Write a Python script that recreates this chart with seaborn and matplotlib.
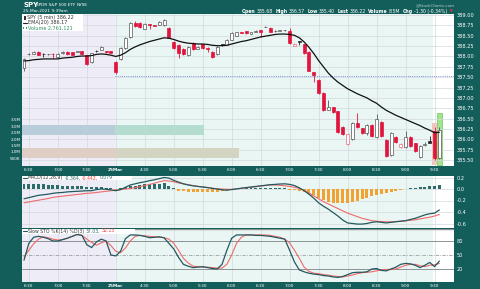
import matplotlib
matplotlib.use("Agg")
import matplotlib.pyplot as plt
from matplotlib.patches import Rectangle
import numpy as np
import pandas as pd
import seaborn as sns

sns.set_theme(style="white")
plt.rcParams["font.family"] = ["DejaVu Sans"]
plt.rcParams["axes.unicode_minus"] = False

# ------------------------------------------------------------------ data
after_hours = pd.date_range("2021-03-24 18:25", "2021-03-24 19:55", freq="5min")
premarket = pd.date_range("2021-03-25 04:00", "2021-03-25 09:35", freq="5min")
bar_times = list(after_hours) + list(premarket)

tick_stamps = ["2021-03-24 18:30", "2021-03-24 19:00", "2021-03-24 19:30",
               "2021-03-25 04:00", "2021-03-25 04:30", "2021-03-25 05:00",
               "2021-03-25 05:30", "2021-03-25 06:00", "2021-03-25 06:30",
               "2021-03-25 07:00", "2021-03-25 07:30", "2021-03-25 08:00",
               "2021-03-25 08:30", "2021-03-25 09:00", "2021-03-25 09:30"]
tick_labels = ["6:30", "7:00", "7:30", "25Mar", "4:30", "5:00", "5:30", "6:00",
               "6:30", "7:00", "7:30", "8:00", "8:30", "9:00", "9:30"]

opens = [387.72, 388.05, 388.06, 388.11, 388.07, 388.05, 388.07, 387.98, 388.08, 388.11,
         388.10, 388.11, 388.12, 388.03, 387.87, 388.14, 388.16, 388.13, 388.12, 387.87,
         387.94, 388.20, 388.47, 388.81, 388.80, 388.67, 388.78, 388.75, 388.76, 388.76,
         388.69, 388.35, 388.28, 388.18, 388.03, 388.33, 388.18, 388.30, 388.20, 388.11,
         388.06, 388.29, 388.28, 388.40, 388.50, 388.59, 388.61, 388.55, 388.60, 388.63,
         388.71, 388.69, 388.61, 388.62, 388.63, 388.61, 388.26, 388.36, 388.30, 388.11,
         387.62, 387.43, 387.12, 386.71, 386.78, 386.68, 386.30, 385.89, 386.01, 386.39,
         386.27, 386.15, 386.35, 386.06, 386.42, 385.98, 385.62, 386.06, 385.82, 385.81,
         386.06, 385.91, 385.58, 385.87, 385.96, 386.20, 385.55]
highs = [387.96, 388.09, 388.12, 388.12, 388.08, 388.07, 388.08, 388.08, 388.12, 388.12,
         388.11, 388.12, 388.13, 388.04, 388.09, 388.15, 388.25, 388.14, 388.13, 387.88,
         388.22, 388.47, 388.84, 388.86, 388.82, 388.80, 388.79, 388.76, 388.86, 388.90,
         388.71, 388.37, 388.30, 388.20, 388.25, 388.35, 388.24, 388.31, 388.22, 388.13,
         388.25, 388.30, 388.42, 388.59, 388.60, 388.60, 388.62, 388.59, 388.63, 388.64,
         388.74, 388.70, 388.63, 388.63, 388.65, 388.68, 388.32, 388.37, 388.31, 388.12,
         387.63, 387.45, 387.13, 386.95, 386.79, 386.69, 386.31, 386.14, 386.41, 386.64,
         386.28, 386.37, 386.37, 386.62, 386.44, 386.00, 386.17, 386.08, 385.90, 386.20,
         386.08, 385.92, 385.86, 385.93, 386.08, 386.30, 386.30]
lows = [387.66, 388.03, 388.05, 388.03, 387.99, 388.04, 387.96, 387.96, 388.07, 388.04,
        388.03, 388.10, 388.05, 387.80, 387.85, 388.11, 388.15, 388.09, 388.08, 387.58,
        387.92, 388.18, 388.45, 388.72, 388.68, 388.66, 388.66, 388.73, 388.75, 388.74,
        388.44, 388.18, 387.97, 388.04, 388.01, 388.16, 388.17, 388.19, 388.10, 387.97,
        388.04, 388.26, 388.27, 388.39, 388.49, 388.56, 388.55, 388.54, 388.58, 388.47,
        388.70, 388.59, 388.60, 388.61, 388.62, 388.30, 388.25, 388.28, 388.07, 387.64,
        387.38, 387.10, 386.69, 386.70, 386.64, 386.16, 386.11, 385.87, 385.99, 386.28,
        386.13, 386.10, 386.05, 386.04, 386.06, 385.58, 385.60, 385.92, 385.80, 385.79,
        385.82, 385.70, 385.54, 385.84, 385.90, 385.50, 385.52]
closes = [387.94, 388.07, 388.11, 388.04, 388.05, 388.06, 388.05, 388.06, 388.11, 388.05,
          388.04, 388.11, 388.06, 387.82, 388.08, 388.12, 388.22, 388.10, 388.09, 387.62,
          388.20, 388.45, 388.81, 388.74, 388.70, 388.78, 388.76, 388.74, 388.84, 388.88,
          388.45, 388.20, 388.08, 388.06, 388.23, 388.18, 388.22, 388.20, 388.18, 387.99,
          388.23, 388.27, 388.40, 388.57, 388.58, 388.57, 388.56, 388.58, 388.61, 388.60,
          388.72, 388.60, 388.62, 388.62, 388.64, 388.32, 388.31, 388.35, 388.08, 387.65,
          387.55, 387.12, 386.71, 386.78, 386.66, 386.18, 386.13, 386.12, 386.39, 386.30,
          386.15, 386.35, 386.08, 386.49, 386.08, 385.60, 386.15, 385.94, 385.89, 386.06,
          385.84, 385.72, 385.84, 385.89, 385.92, 385.55, 386.22]
ema20 = [387.89, 387.90, 387.92, 387.93, 387.94, 387.94, 387.94, 387.94, 387.96, 387.97,
         387.98, 388.00, 388.01, 388.01, 388.02, 388.05, 388.06, 388.05, 388.03, 388.00,
         388.03, 388.09, 388.17, 388.23, 388.28, 388.32, 388.36, 388.39, 388.42, 388.45,
         388.44, 388.41, 388.37, 388.34, 388.32, 388.31, 388.30, 388.30, 388.29, 388.27,
         388.26, 388.26, 388.27, 388.30, 388.33, 388.36, 388.38, 388.41, 388.44, 388.47,
         388.49, 388.51, 388.53, 388.54, 388.54, 388.53, 388.51, 388.45, 388.35, 388.22,
         388.07, 387.90, 387.75, 387.60, 387.48, 387.38, 387.30, 387.22, 387.16, 387.10,
         387.05, 387.00, 386.93, 386.87, 386.78, 386.70, 386.64, 386.58, 386.53, 386.48,
         386.43, 386.38, 386.33, 386.27, 386.22, 386.16, 386.17]
macd = [-0.17, -0.15, -0.13, -0.11, -0.10, -0.09, -0.075, -0.065, -0.06, -0.05,
        -0.045, -0.04, -0.035, -0.03, -0.03, -0.01, 0.0, -0.005, -0.015, -0.03,
        -0.01, 0.03, 0.07, 0.09, 0.11, 0.125, 0.145, 0.16, 0.18, 0.20,
        0.19, 0.15, 0.12, 0.09, 0.07, 0.055, 0.045, 0.035, 0.025, 0.01,
        0.0, -0.015, -0.02, -0.01, 0.0, 0.015, 0.025, 0.035, 0.045, 0.055,
        0.065, 0.075, 0.08, 0.087, 0.09, 0.08, 0.06, 0.02, -0.03, -0.09,
        -0.16, -0.24, -0.30, -0.35, -0.41, -0.47, -0.54, -0.59, -0.60, -0.61,
        -0.61, -0.60, -0.58, -0.57, -0.58, -0.59, -0.58, -0.57, -0.56, -0.55,
        -0.53, -0.51, -0.48, -0.45, -0.43, -0.42, -0.364]
signal = [-0.24, -0.225, -0.21, -0.195, -0.18, -0.165, -0.145, -0.135, -0.125, -0.115,
          -0.105, -0.095, -0.085, -0.075, -0.07, -0.06, -0.05, -0.04, -0.03, -0.02,
          -0.01, 0.0, 0.01, 0.025, 0.04, 0.06, 0.08, 0.10, 0.125, 0.145,
          0.14, 0.125, 0.105, 0.09, 0.075, 0.06, 0.045, 0.035, 0.025, 0.015,
          0.005, 0.0, -0.005, -0.005, 0.005, 0.01, 0.02, 0.03, 0.04, 0.05,
          0.06, 0.07, 0.07, 0.065, 0.055, 0.045, 0.03, 0.01, -0.02, -0.07,
          -0.12, -0.17, -0.22, -0.26, -0.30, -0.34, -0.38, -0.42, -0.45, -0.48,
          -0.51, -0.53, -0.55, -0.56, -0.565, -0.57, -0.57, -0.565, -0.56, -0.555,
          -0.545, -0.535, -0.52, -0.505, -0.49, -0.47, -0.442]
hist = [0.08, 0.08, 0.08, 0.08, 0.08, 0.075, 0.07, 0.065, 0.06, 0.06,
        0.055, 0.05, 0.045, 0.035, 0.03, 0.03, 0.03, 0.025, 0.015, -0.01,
        0.01, 0.04, 0.05, 0.06, 0.07, 0.08, 0.085, 0.09, 0.095, 0.10,
        0.05, 0.02, -0.035, -0.04, -0.05, -0.05, -0.05, -0.05, -0.05, -0.05,
        -0.045, -0.04, -0.03, -0.02, 0.0, 0.01, 0.015, 0.015, 0.015, 0.015,
        0.015, 0.015, 0.015, 0.015, 0.01, -0.01, -0.02, -0.04, -0.06, -0.08,
        -0.11, -0.15, -0.19, -0.22, -0.24, -0.245, -0.25, -0.24, -0.22, -0.20,
        -0.18, -0.16, -0.13, -0.11, -0.09, -0.07, -0.05, -0.03, -0.02, 0.005,
        0.01, 0.015, 0.03, 0.04, 0.05, 0.06, 0.078]
sto_k = [39, 75, 88, 90, 88, 85, 80, 80, 83, 86,
         90, 94, 92, 72, 66, 78, 84, 80, 50, 48,
         58, 85, 93, 93, 92, 90, 87, 88, 89, 87,
         75, 63, 45, 30, 26, 23, 24, 25, 23, 21,
         20, 30, 60, 86, 93, 93, 93, 93, 92, 92,
         91, 90, 88, 86, 84, 60, 35, 18, 14, 11,
         9, 8, 6, 5, 3, 2, 4, 8, 12, 13,
         13, 14, 20, 21, 17, 16, 20, 24, 30, 32,
         31, 28, 23, 28, 34, 25, 37]
sto_d = [46, 60, 74, 84, 89, 87, 84, 82, 83, 86,
         90, 94, 92, 84, 77, 71, 76, 80, 70, 58,
         55, 65, 80, 90, 92, 91, 90, 89, 88, 87,
         84, 75, 60, 43, 33, 26, 25, 24, 24, 23,
         22, 22, 30, 50, 75, 88, 93, 93, 93, 93,
         93, 92, 90, 88, 84, 76, 60, 43, 24, 15,
         11, 10, 8, 7, 5, 4, 3, 5, 7, 10,
         12, 13, 14, 16, 18, 19, 19, 20, 24, 28,
         30, 30, 27, 25, 28, 29, 32]
# regular-session volume bars (9:30, 9:35)
vol_times = ["2021-03-25 09:30", "2021-03-25 09:35"]
vol_values = [3.27e6, 4.04e6]
# volume-by-price zones: price centre, zone height, bar extent (bars)
vbp_price = [386.23, 385.67]
vbp_height = [0.24, 0.24]
vbp_extent = [37.3, 44.5]
prev_close = 387.52

# ------------------------------------------------------------------ frame
df = pd.DataFrame({"idx": np.arange(len(bar_times)), "open": opens, "high": highs,
                   "low": lows, "close": closes, "ema": ema20, "macd": macd,
                   "signal": signal, "hist": hist, "k": sto_k, "d": sto_d})
pos_of = {t: i for i, t in enumerate(bar_times)}
tick_pos = [pos_of[pd.Timestamp(s)] for s in tick_stamps]

W, H = 480, 289
DARK = "#135e5b"
LAV = "#eeedf7"
TEALBG = "#eaf6f4"
GRID = "#d3d9dc"
RED = "#e0143c"
XL = (-0.414, 89.03)
AH_END = 18.75
PRE_END = 84.75

fig = plt.figure(figsize=(W / 100, H / 100), dpi=100, facecolor=DARK)


def rect(x0, y0, x1, y1):
    return [x0 / W, 1 - y1 / H, (x1 - x0) / W, (y1 - y0) / H]


def shade(a):
    a.axvspan(XL[0], AH_END, color=LAV, lw=0, zorder=0)
    a.axvspan(AH_END, PRE_END, color=TEALBG, lw=0, zorder=0)
    a.axvspan(PRE_END, XL[1], color="white", lw=0, zorder=0)


def strip(a):
    for s in a.spines.values():
        s.set_visible(False)


# ------------------------------------------------------------------ price panel
ax = fig.add_axes(rect(22, 14, 454, 166))
axv = ax.twinx()
ax.set_zorder(3)
axv.set_zorder(2)
ax.patch.set_visible(False)
shade(axv)
axv.set_xlim(*XL)
axv.set_ylim(-0.115e6, 11.8e6)
vpos = [pos_of[pd.Timestamp(s)] for s in vol_times]
axv.bar(vpos[0], vol_values[0], width=0.9, color="#f5b9ac", alpha=0.85, lw=0, zorder=2)
axv.bar(vpos[1], vol_values[1], width=0.9, color="#a3e48f", edgecolor="#6fc45f", lw=0.5, zorder=2)
axv.yaxis.set_ticks_position("left")
vt = [0.5e6, 1.0e6, 1.5e6, 2.0e6, 2.5e6, 3.0e6, 3.5e6]
axv.set_yticks(vt, ["500K", "1.0M", "1.5M", "2.0M", "2.5M", "3.0M", "3.5M"])
axv.tick_params(axis="y", colors="white", labelsize=3.0, length=0, pad=1)
strip(axv)

ax.set_xlim(*XL)
ax.set_ylim(389.0 - (166 - 15) * 0.02413, 389.0 + 1 * 0.02413)
pt = np.arange(385.5, 389.001, 0.25)
ax.set_yticks(pt, [f"{v:.2f}" for v in pt])
ax.yaxis.tick_right()
ax.tick_params(axis="y", colors="white", labelsize=3.6, length=0, pad=2)
ax.set_xticks(tick_pos, tick_labels)
ax.tick_params(axis="x", colors="white", labelsize=3.1, length=0, pad=1.6)
for lab in ax.get_xticklabels():
    if lab.get_text() == "25Mar":
        lab.set_fontweight("bold")
ax.grid(True, color=GRID, lw=0.5)
ax.set_axisbelow(True)
strip(ax)

# volume-by-price zones
for p, h, e in zip(vbp_price, vbp_height, vbp_extent):
    lo_col, hi_col = (("#b9ccd9", "#b4dccf") if p > 386 else ("#dfcec3", "#d4d4c3"))
    ax.barh(p, AH_END - XL[0], left=XL[0], height=h, color=lo_col, lw=0, zorder=1)
    ax.barh(p, e - AH_END, left=AH_END, height=h, color=hi_col, lw=0, zorder=1)

ax.hlines(prev_close, AH_END, XL[1], colors="#5b6fd6", linestyles=(0, (1, 1.6)), lw=0.6, zorder=2)

# candles
prev = np.r_[-np.inf, df["close"].values[:-1]]
for i, r in df.iterrows():
    up = r["close"] >= r["open"]
    red = r["close"] < prev[i]
    if red:
        edge = RED if not up else "#ef6b7e"
        face = RED if not up else "white"
    else:
        edge = "#222222" if not up else "#555555"
        face = "#222222" if not up else "white"
    ax.vlines(r["idx"], r["low"], r["high"], color=edge, lw=0.6, zorder=4)
    body = max(abs(r["close"] - r["open"]), 0.012)
    ax.bar(r["idx"], body, bottom=min(r["open"], r["close"]), width=0.62,
           color=face, edgecolor=edge, lw=0.5, zorder=5)

sns.lineplot(data=df, x="idx", y="ema", ax=ax, color="#111111", lw=0.9, zorder=6, legend=False)
ax.set_xlabel("")
ax.set_ylabel("")
axv.set_ylabel("")

# ------------------------------------------------------------------ MACD panel
axm = fig.add_axes(rect(22, 176, 454, 228))
shade(axm)
axm.set_xlim(*XL)
axm.set_ylim((189 - 228) / 57.5, (189 - 176) / 57.5)
mt = [-0.6, -0.4, -0.2, 0.0, 0.2]
axm.set_yticks(mt, ["-0.6", "-0.4", "-0.2", "0.0", "0.2"])
axm.yaxis.tick_right()
axm.tick_params(axis="y", colors="white", labelsize=3.6, length=0, pad=2)
axm.set_xticks(tick_pos, [])
axm.tick_params(axis="x", length=0)
axm.grid(True, color=GRID, lw=0.5)
axm.set_axisbelow(True)
strip(axm)
hcol = ["#2c6d69" if v >= 0 else "#f0a233" for v in df["hist"]]
axm.bar(df["idx"], df["hist"], width=0.62, color=hcol, lw=0, zorder=2)
sns.lineplot(data=df, x="idx", y="signal", ax=axm, color="#f06a6a", lw=0.8, zorder=3, legend=False)
sns.lineplot(data=df, x="idx", y="macd", ax=axm, color="#235a5e", lw=0.9, zorder=4, legend=False)
axm.set_xlabel("")
axm.set_ylabel("")

# ------------------------------------------------------------------ STO panel
axs = fig.add_axes(rect(22, 229, 454, 282))
shade(axs)
axs.set_xlim(*XL)
axs.set_ylim(20 + (269 - 282) * 2.143, 20 + (269 - 229) * 2.143)
axs.set_yticks([20, 50, 80], ["20", "50", "80"])
axs.yaxis.tick_right()
axs.tick_params(axis="y", colors="white", labelsize=3.6, length=0, pad=2)
axs.set_xticks(tick_pos, tick_labels)
axs.tick_params(axis="x", colors="white", labelsize=3.1, length=0, pad=1.2)
for lab in axs.get_xticklabels():
    if lab.get_text() == "25Mar":
        lab.set_fontweight("bold")
axs.grid(True, axis="x", color=GRID, lw=0.5)
axs.set_axisbelow(True)
strip(axs)
axs.axhline(80, color="#8c9396", lw=0.7, zorder=1)
axs.axhline(20, color="#8c9396", lw=0.7, zorder=1)
axs.axhline(50, color="#9a9fa2", lw=0.6, ls=(0, (4, 1.5, 1, 1.5)), zorder=1)
axs.axhline(axs.get_ylim()[1], color="#8c9396", lw=1.0, zorder=1)
sns.lineplot(data=df, x="idx", y="d", ax=axs, color="#f06a6a", lw=0.8, zorder=3, legend=False)
sns.lineplot(data=df, x="idx", y="k", ax=axs, color="#25585e", lw=0.9, zorder=4, legend=False)
axs.set_xlabel("")
axs.set_ylabel("")

# ------------------------------------------------------------------ texts
renderer = fig.canvas.get_renderer()


def segs(x, y, parts, size, gap=1.2):
    for txt, col, wt in parts:
        t = fig.text(x / W, 1 - y / H, txt, color=col, fontsize=size, fontweight=wt,
                     va="center", ha="left", zorder=20)
        x += t.get_window_extent(renderer=renderer).width + gap
    return x


def box(x0, y0, x1, y1):
    fig.add_artist(Rectangle((x0 / W, 1 - y1 / H), (x1 - x0) / W, (y1 - y0) / H,
                             transform=fig.transFigure, fc="white", ec="none", zorder=15))


# title
segs(23, 5, [("SPY", "white", "bold")], 5.0)
segs(36, 5.4, [("SPDR S&P 500 ETF", "white", "normal"), ("NYSE", "white", "normal")], 3.1)
segs(23, 11, [("25-Mar-2021 9:39am", "white", "normal")], 3.1)
fig.text(455 / W, 1 - 5 / H, "@StockCharts.com", color="#b9d0ce", fontsize=3.0,
         ha="right", va="center")
x = 242
for key, val in [("Open", "385.68"), ("High", "386.57"), ("Low", "385.40"),
                 ("Last", "386.22"), ("Volume", "8.5M"), ("Chg", "-1.30 (-0.34%)")]:
    x = segs(x, 11.3, [(key, "white", "bold"), (val, "white", "normal")], 3.3, gap=1.0)
    x += 1.5
fig.text((x + 0.5) / W, 1 - 11.3 / H, "\u25bc", color="#ff3030", fontsize=2.6, va="center")

# price legend
box(22, 14, 83, 30.5)
fig.add_artist(Rectangle((23.6 / W, 1 - 19.5 / H), 2.2 / W, 3.2 / H, transform=fig.transFigure,
                         fc="#333333", ec="none", zorder=16))
segs(27, 17.8, [("SPY (5 min) 386.22", "#333333", "normal")], 3.5)
fig.add_artist(plt.Line2D([23.2 / W, 27.0 / W], [1 - 22.8 / H, 1 - 22.8 / H],
                          transform=fig.transFigure, color="#222222", lw=0.8, zorder=16))
segs(27.5, 22.8, [("EMA(20) 386.17", "#333333", "normal")], 3.5)
for k, hh in enumerate([1.8, 3.0, 2.2]):
    fig.add_artist(Rectangle(((23.3 + k * 1.2) / W, 1 - 29.2 / H), 0.9 / W, hh / H,
                             transform=fig.transFigure, fc="#3d9a6a", ec="none", zorder=16))
segs(27.5, 27.8, [("Volume 2,761,121", "#2f8f63", "normal")], 3.5)

# MACD legend
box(22, 175.5, 132, 180.2)
fig.add_artist(plt.Line2D([23.2 / W, 27.0 / W], [1 - 177.8 / H, 1 - 177.8 / H],
                          transform=fig.transFigure, color="#235a5e", lw=0.8, zorder=16))
segs(28, 177.8, [("MACD(12,26,9)", "#333333", "normal"), ("-0.364,", "#2c6d69", "normal"),
                 ("-0.442,", "#f03c3c", "normal"), ("0.079", "#2c6d69", "normal")], 3.3)

# STO legend
box(22, 228.5, 135, 233.6)
fig.add_artist(plt.Line2D([23.2 / W, 27.0 / W], [1 - 231 / H, 1 - 231 / H],
                          transform=fig.transFigure, color="#25585e", lw=0.8, zorder=16))
segs(28, 231, [("Slow STO %K(14) %D(3)", "#333333", "normal"), ("37.03,", "#2c6d69", "normal"),
               ("32.15", "#f03c3c", "normal")], 3.3)

fig.savefig("out.png", dpi=100, facecolor=DARK)
